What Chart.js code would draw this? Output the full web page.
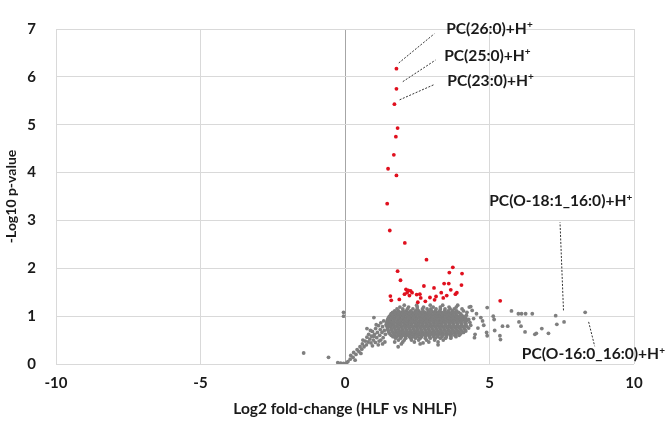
<!DOCTYPE html>
<html>
<head>
<meta charset="utf-8">
<script src="https://cdn.jsdelivr.net/npm/chart.js@4.4.0/dist/chart.umd.min.js"></script>
<style>
  html, body { margin: 0; padding: 0; background: #fff; }
  #wrap { width: 668px; height: 427px; }
</style>
</head>
<body>
<div id="wrap"><canvas id="chart"></canvas></div>
<script>
// axis ranges / ticks
const xMin = -10, xMax = 10, xStep = 5;
const yMin = 0, yMax = 7, yStep = 1;

// significant lipids (red)
const redPoints = [
  [1.78,6.17],[1.78,5.75],[1.71,5.43],[1.82,4.93],[1.76,4.75],[1.69,4.37],[1.49,4.08],
  [1.78,3.94],[1.46,3.35],[1.55,2.79],[2.07,2.53],[2.82,2.18],[3.73,2.02],[1.82,1.94],
  [4.05,1.89],[3.61,1.91],[1.92,1.75],[3.43,1.68],[3.59,1.68],[2.73,1.63],[4.03,1.65],
  [3.08,1.59],[2.11,1.56],[2.19,1.54],[2.27,1.53],[2.15,1.49],[2.32,1.49],[2.06,1.46],
  [2.23,1.43],[3.66,1.55],[2.48,1.45],[2.59,1.46],[3.33,1.49],[3.87,1.49],[3.82,1.46],
  [1.57,1.42],[2.94,1.39],[3.15,1.41],[2.62,1.38],[3.52,1.43],[3.40,1.38],[1.88,1.35],
  [1.60,1.33],[2.78,1.31],[2.52,1.29],[3.10,1.34],[5.37,1.32]
];

// scattered non-significant lipids outside the main cloud (grey)
const grayOutliers = [
  [-1.43,0.23],[-0.57,0.14],[-0.05,1.08],[-0.05,1.00],
  [4.92,1.18],[4.70,0.97],[4.76,0.90],[4.80,0.81],[5.13,1.00],[5.16,0.93],[5.18,0.70],
  [4.90,0.66],[4.92,0.59],[5.36,0.59],[5.38,0.51],[5.76,1.11],[6.00,1.05],[6.11,1.05],
  [6.25,1.05],[6.48,1.05],[6.02,0.88],[6.09,0.79],[5.63,0.79],[5.45,0.79],[6.23,0.67],
  [6.57,0.62],[6.62,0.64],[6.81,0.74],[7.04,0.64],[7.29,1.01],[7.33,0.83],[7.58,0.88],
  [8.31,1.08],[4.55,1.05],[4.60,0.75],[4.50,0.62],[4.45,0.95],[4.40,1.12],[4.48,0.55],
  [3.22,0.40],[2.70,0.44],[1.84,0.36],[4.35,1.20]
];

// rising arm between 0 and the cloud (grey)
const grayArm = [
  [-0.25,0.03],[-0.15,0.02],[-0.05,0.01],[0.05,0.02],[0.10,0.05],[0.18,0.10],[0.20,0.18],
  [0.28,0.14],[0.30,0.24],[0.38,0.20],[0.42,0.30],[0.48,0.26],[0.52,0.36],[0.58,0.31],
  [0.60,0.42],[0.66,0.36],[0.70,0.48],[0.74,0.40],[0.76,0.56],[0.80,0.46],[0.82,0.62],
  [0.86,0.52],[0.90,0.44],[0.92,0.58],[0.95,0.68],[0.98,0.50],[1.00,0.97],[1.02,0.62],
  [1.05,0.45],[1.06,0.74],[1.10,0.55],[1.12,0.66],[1.15,0.40],[1.16,0.80],[1.20,0.60],
  [1.22,0.72],[1.24,0.50],[1.24,0.86],[1.28,0.66],[1.30,0.78],[1.32,0.55],[1.34,0.90],
  [1.36,0.70],[1.38,0.46],[1.40,0.62],[1.42,0.82],[0.76,0.74],[0.62,0.50],[0.88,0.70],
  [1.08,0.82],[1.18,0.48],[0.35,0.08],[0.55,0.22],[0.95,0.38],[1.30,0.42],[1.00,0.58]
];

// dense grey cloud, read row by row: [y, [x values]]
const cloudRows = [
  [1.23, [2.05,2.48,2.95,3.38,3.9]],
  [1.19, [1.9,2.2,2.5,2.72,3.05,3.3,3.6,3.85,4.3]],
  [1.15, [1.8,2.0,2.16,2.35,2.5,2.68,2.84,2.97,3.15,3.3,3.46,3.64,3.78,4.05]],
  [1.11, [1.72,1.85,2.01,2.12,2.27,2.44,2.55,2.7,2.88,3.0,3.13,3.28,3.45,3.57,3.72,3.86,4.1]],
  [1.08, [1.65,1.79,1.92,2.08,2.2,2.33,2.49,2.62,2.77,2.9,3.06,3.19,3.34,3.48,3.61,3.77,3.93,4.22]],
  [1.05, [1.6,1.73,1.86,1.99,2.13,2.27,2.4,2.55,2.69,2.81,2.96,3.1,3.24,3.39,3.52,3.68,3.83,3.99]],
  [1.02, [1.57,1.69,1.82,1.95,2.06,2.2,2.35,2.47,2.61,2.76,2.89,3.03,3.16,3.31,3.45,3.58,3.73,3.87,4.04,4.2]],
  [0.99, [1.53,1.65,1.78,1.91,2.03,2.16,2.29,2.43,2.57,2.7,2.83,2.98,3.12,3.25,3.38,3.53,3.66,3.81,3.95,4.1]],
  [0.96, [1.5,1.62,1.74,1.88,2.0,2.12,2.25,2.38,2.51,2.65,2.79,2.92,3.05,3.19,3.34,3.47,3.6,3.75,3.9,4.04,4.18]],
  [0.93, [1.48,1.59,1.71,1.84,1.97,2.09,2.22,2.34,2.47,2.61,2.74,2.87,3.01,3.14,3.28,3.41,3.55,3.69,3.82,3.97,4.13,4.28]],
  [0.90, [1.46,1.57,1.69,1.81,1.93,2.06,2.18,2.31,2.44,2.57,2.7,2.83,2.96,3.1,3.23,3.36,3.5,3.63,3.77,3.91,4.05,4.2]],
  [0.87, [1.45,1.55,1.67,1.79,1.9,2.03,2.15,2.27,2.4,2.53,2.66,2.79,2.92,3.06,3.19,3.32,3.45,3.59,3.72,3.86,4.0,4.15,4.32]],
  [0.84, [1.47,1.58,1.7,1.82,1.94,2.06,2.19,2.31,2.44,2.57,2.7,2.83,2.96,3.09,3.23,3.36,3.49,3.63,3.76,3.9,4.04,4.19]],
  [0.81, [1.45,1.56,1.68,1.8,1.92,2.04,2.16,2.29,2.42,2.54,2.67,2.8,2.93,3.07,3.2,3.33,3.47,3.6,3.74,3.88,4.02,4.16,4.35]],
  [0.78, [1.46,1.58,1.7,1.82,1.95,2.07,2.2,2.33,2.46,2.59,2.72,2.85,2.98,3.11,3.25,3.38,3.52,3.65,3.79,3.93,4.07,4.22]],
  [0.75, [1.47,1.6,1.72,1.85,1.97,2.1,2.23,2.36,2.49,2.62,2.75,2.88,3.01,3.15,3.28,3.42,3.55,3.69,3.83,3.97,4.12,4.28]],
  [0.72, [1.48,1.61,1.74,1.86,1.99,2.12,2.25,2.38,2.51,2.64,2.77,2.9,3.04,3.17,3.31,3.44,3.58,3.72,3.86,4.0,4.15]],
  [0.69, [1.5,1.63,1.76,1.88,2.01,2.14,2.27,2.4,2.53,2.66,2.8,2.93,3.06,3.2,3.33,3.47,3.61,3.75,3.89,4.04,4.18]],
  [0.66, [1.52,1.66,1.79,1.92,2.05,2.18,2.31,2.44,2.57,2.7,2.83,2.97,3.1,3.24,3.37,3.51,3.65,3.79,3.94,4.1]],
  [0.63, [1.55,1.7,1.83,1.96,2.09,2.22,2.35,2.48,2.61,2.75,2.88,3.01,3.15,3.29,3.42,3.56,3.7,3.85,4.0]],
  [0.60, [1.6,1.74,1.87,2.0,2.14,2.27,2.4,2.54,2.67,2.81,2.94,3.08,3.22,3.36,3.5,3.65,3.8,3.95]],
  [0.57, [1.66,1.8,1.95,2.09,2.23,2.37,2.51,2.65,2.79,2.93,3.07,3.21,3.36,3.51,3.67,3.84]],
  [0.54, [1.75,1.92,2.1,2.28,2.44,2.6,2.78,2.95,3.12,3.3,3.48,3.66]],
  [0.50, [1.85,2.05,2.3,2.55,2.82,3.1,3.4]],
  [0.46, [1.72,2.0,2.4,2.9,3.22]],
  [0.42, [1.95,2.6]]
];

// annotation labels
const annotationText = ['PC(26:0)+H', 'PC(25:0)+H', 'PC(23:0)+H', 'PC(O-18:1_16:0)+H', 'PC(O-16:0_16:0)+H'];
// text anchor (left edge, middle) and leader line ends, in data units
const annotationPos = [
  { tx: 3.50, ty: 7.00, from: [1.86, 6.29], to: [3.09, 6.90] },
  { tx: 3.43, ty: 6.44, from: [2.00, 5.90], to: [3.13, 6.35] },
  { tx: 3.54, ty: 5.92, from: [1.89, 5.52], to: [3.09, 5.84] },
  { tx: 4.99, ty: 3.40, from: [7.56, 1.12], to: [7.44, 2.96] },
  { tx: 6.12, ty: 0.20, from: [8.43, 0.88], to: [8.64, 0.37] }
];

const grayPoints = grayOutliers.concat(grayArm).map(p => ({ x: p[0], y: p[1] }));
cloudRows.forEach(([y, xs]) => xs.forEach(x => grayPoints.push({ x: x, y: y })));

const FONT = 'Lato, "Open Sans", sans-serif';
const TEXT = '#1a1a1a';

const annotationPlugin = {
    id: 'leaders',
    afterDatasetsDraw(chart) {
        const ctx = chart.ctx;
        const sx = chart.scales.x, sy = chart.scales.y;
        ctx.save();
        annotationPos.forEach((a, i) => {
            ctx.beginPath();
            ctx.setLineDash([2, 1.5]);
            ctx.strokeStyle = '#333';
            ctx.lineWidth = 1;
            ctx.moveTo(sx.getPixelForValue(a.from[0]), sy.getPixelForValue(a.from[1]));
            ctx.lineTo(sx.getPixelForValue(a.to[0]), sy.getPixelForValue(a.to[1]));
            ctx.stroke();

            const px = sx.getPixelForValue(a.tx);
            const py = sy.getPixelForValue(a.ty);
            ctx.setLineDash([]);
            ctx.fillStyle = TEXT;
            ctx.textBaseline = 'middle';
            ctx.textAlign = 'left';
            ctx.font = 'bold 15.6px ' + FONT;
            ctx.fillText(annotationText[i], px, py);
            const w = ctx.measureText(annotationText[i]).width;
            ctx.font = 'bold 10px ' + FONT;
            ctx.fillText('+', px + w, py - 4);
        });
        ctx.restore();
    }
};

new Chart(document.getElementById('chart'), {
    type: 'scatter',
    data: {
        datasets: [
            {
                label: 'significant',
                data: redPoints.map(p => ({ x: p[0], y: p[1] })),
                pointRadius: 1.9,
                pointBackgroundColor: '#e0101e',
                pointBorderWidth: 0
            },
            {
                label: 'other',
                data: grayPoints,
                pointRadius: 1.9,
                pointBackgroundColor: '#7f7f7f',
                pointBorderWidth: 0
            }
        ]
    },
    options: {
        responsive: true,
        maintainAspectRatio: false,
        animation: false,
        layout: { padding: { left: 0, right: 34, top: 9, bottom: 0 } },
        plugins: { legend: { display: false }, tooltip: { enabled: false } },
        scales: {
            x: {
                type: 'linear',
                min: xMin, max: xMax,
                afterFit: s => { s.height = 63; },
                ticks: {
                    stepSize: xStep,
                    color: TEXT,
                    padding: 10,
                    font: { family: FONT, size: 15, weight: 'bold' }
                },
                grid: {
                    drawTicks: false,
                    color: ctx => ctx.tick && ctx.tick.value === 0 ? '#a6a6a6' : '#d9d9d9',
                    lineWidth: 1
                },
                border: { display: false },
                title: {
                    display: true,
                    text: 'Log2 fold-change (HLF vs NHLF)',
                    color: TEXT,
                    padding: { top: 0, bottom: 9 },
                    font: { family: FONT, size: 15.5, weight: 'bold' }
                }
            },
            y: {
                type: 'linear',
                min: yMin, max: yMax,
                afterFit: s => { s.width = 56; },
                ticks: {
                    stepSize: yStep,
                    color: TEXT,
                    padding: 20,
                    font: { family: FONT, size: 15, weight: 'bold' }
                },
                grid: { drawTicks: false, color: '#d9d9d9', lineWidth: 1 },
                border: { display: false },
                title: {
                    display: true,
                    text: '-Log10 p-value',
                    color: TEXT,
                    padding: { top: 3, bottom: 0 },
                    font: { family: FONT, size: 14, weight: 'bold' }
                }
            }
        }
    },
    plugins: [annotationPlugin]
});
</script>
</body>
</html>
